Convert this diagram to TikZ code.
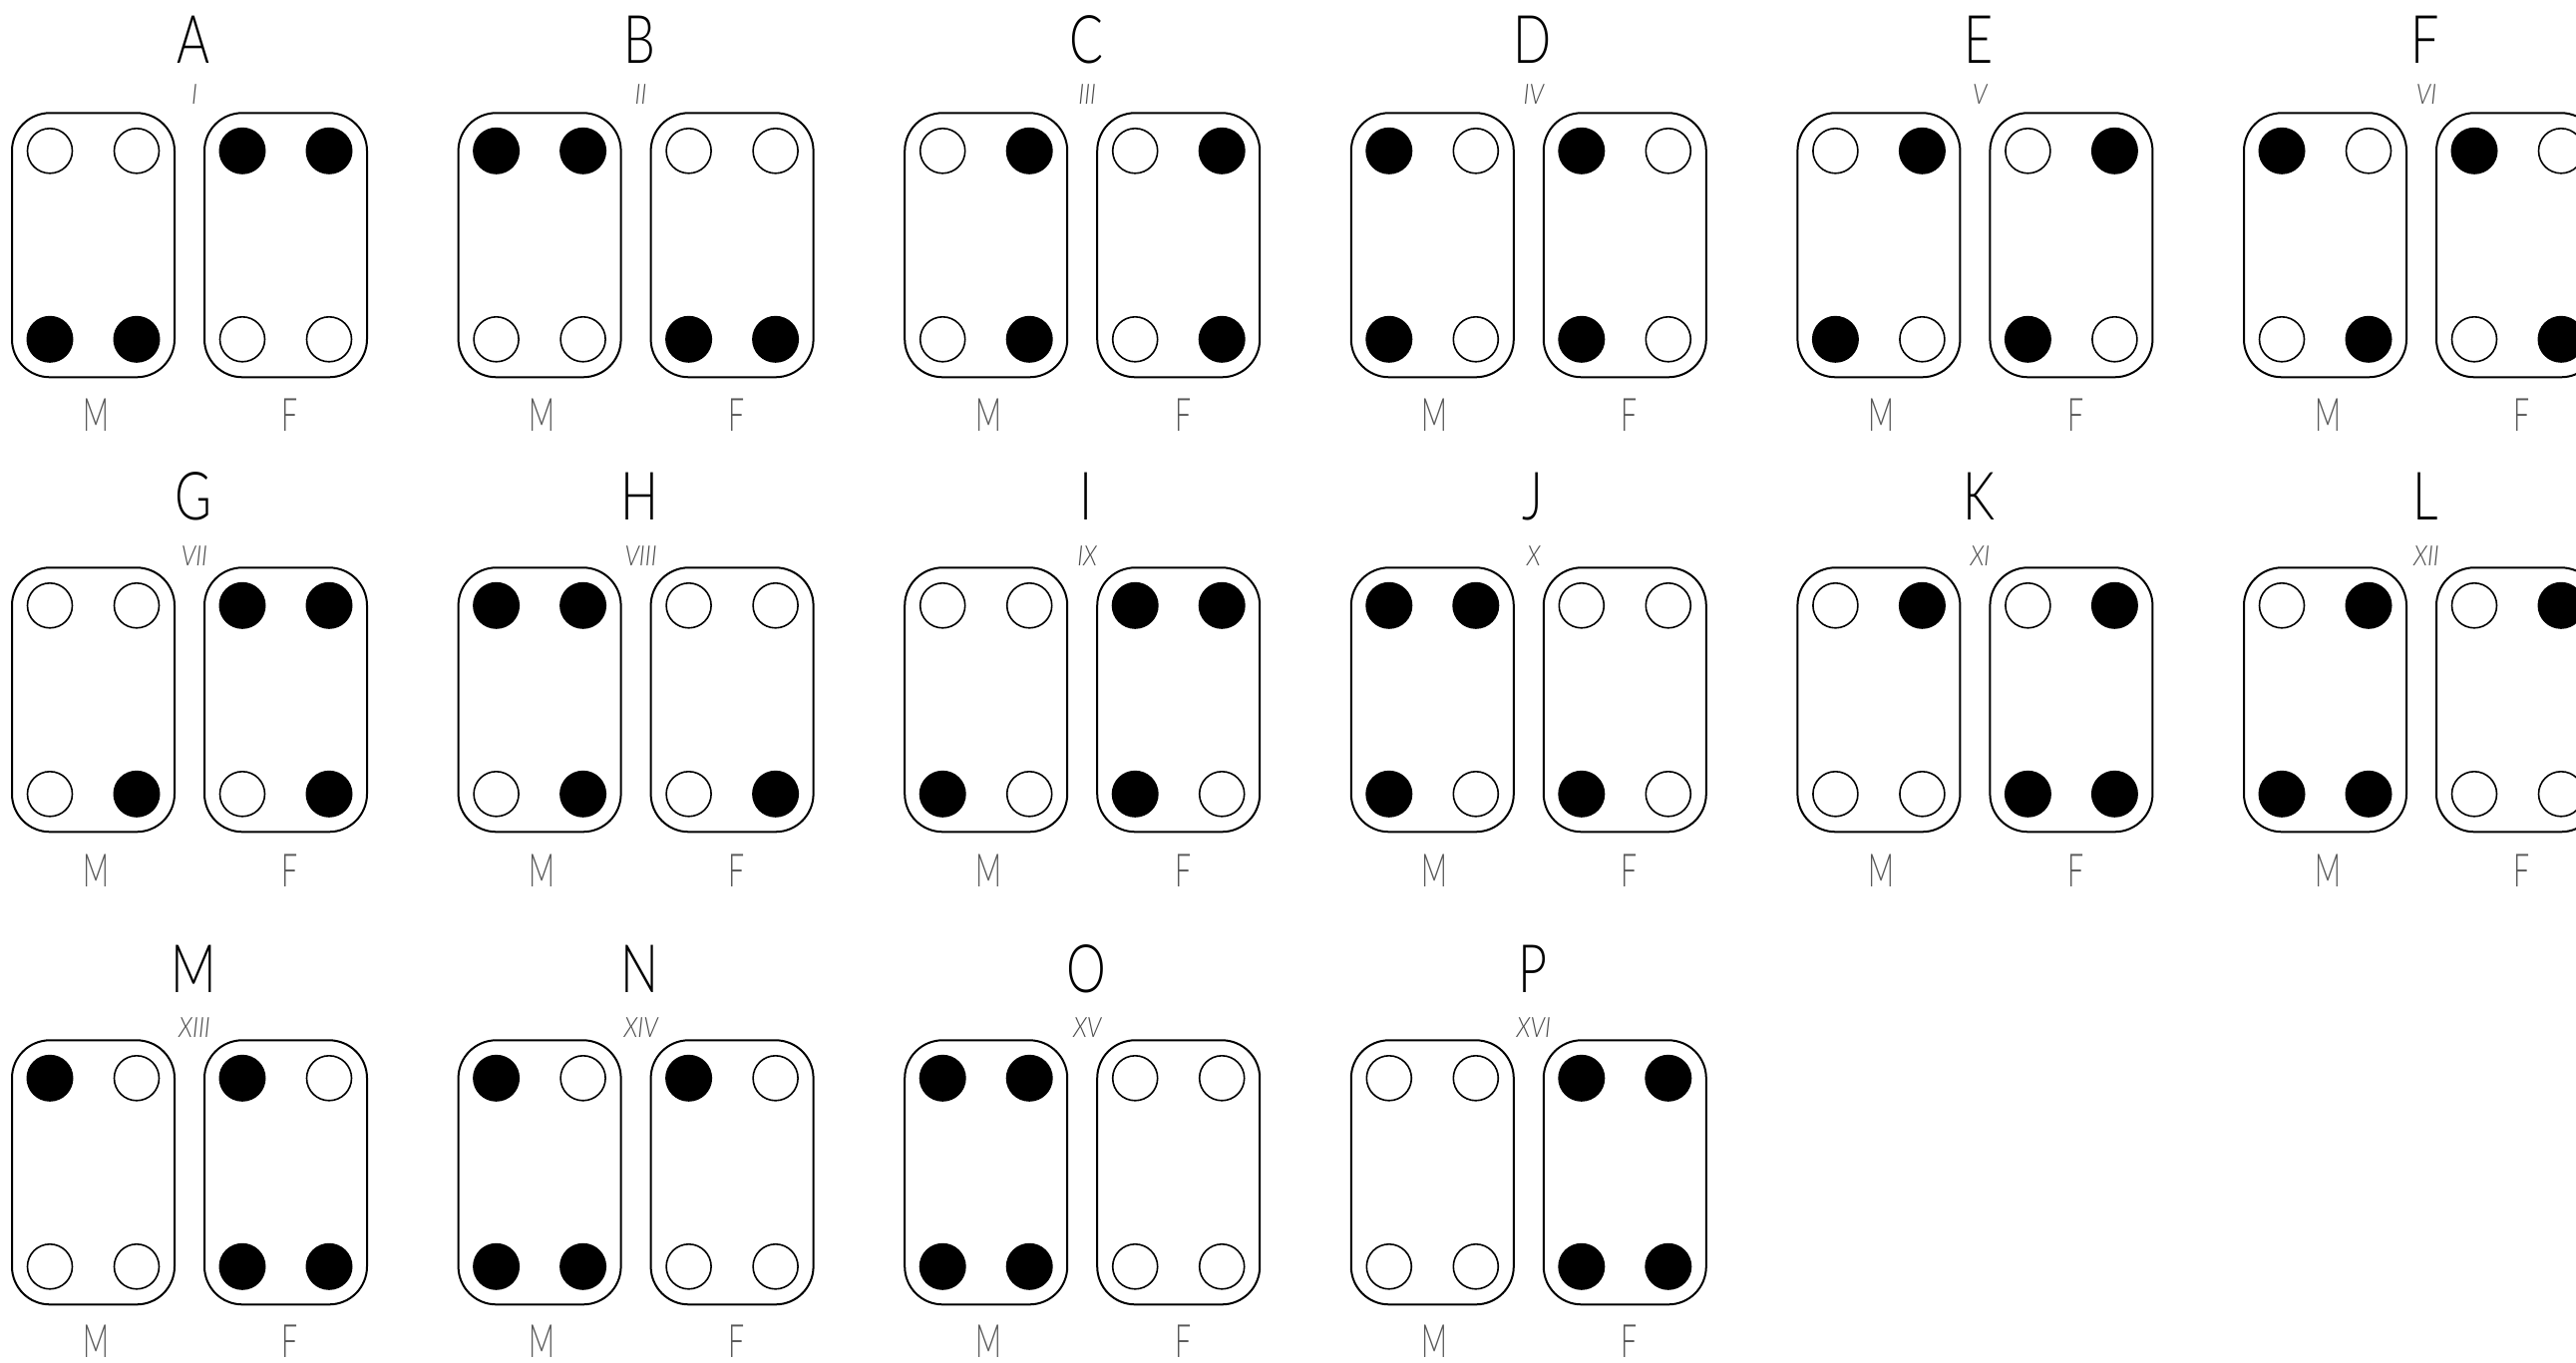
\documentclass[tikz,border=0pt]{standalone}
\usepackage{fontspec}
\IfFontExistsTF{Lato Light}{\newfontfamily\letterfont{Lato Light}}{\newfontfamily\letterfont{DejaVu Sans}}
\IfFontExistsTF{Lato Light}{\newfontfamily\labelfont{Lato Light}}{\newfontfamily\labelfont{DejaVu Sans}}
\IfFontExistsTF{Lato Light Italic}{\newfontfamily\numfont{Lato Light Italic}}{\newfontfamily\numfont{DejaVu Sans}[FakeSlant=0.2]}
\definecolor{labgray}{gray}{0.35}
\definecolor{numgray}{gray}{0.3}
\newcommand{\letoff}{-49}
\newcommand{\numoff}{-5}
\newcommand{\laboff}{320}
\newcommand{\grp}[7]{%
\begin{scope}[shift={(#2,#3)}]
\node[plate] (#1m) at (81.5,132.5) {};
\node[plate] (#1f) at (274.5,132.5) {};
\node[bigletter] (#1let) at (182,\letoff) {#4};
\node[numeral] (#1num) at (183,\numoff) {#5};
\node[sublabel] (#1ml) at (84,\laboff) {M};
\node[sublabel] (#1fl) at (279,\laboff) {F};
\foreach \s [count=\k from 0] in {#6} {
  \pgfmathsetmacro\dx{38+87*mod(\k,2)}
  \pgfmathsetmacro\dy{38+189*floor(\k/2)}
  \node[hole\s] (#1m\k) at (\dx,\dy) {};
}
\foreach \s [count=\k from 0] in {#7} {
  \pgfmathsetmacro\dx{231+87*mod(\k,2)}
  \pgfmathsetmacro\dy{38+189*floor(\k/2)}
  \node[hole\s] (#1f\k) at (\dx,\dy) {};
}
\end{scope}}
\begin{document}
\begin{tikzpicture}[x=1pt,y=-1pt,
  plate/.style={draw,line width=2pt,rounded corners=38pt,minimum width=163pt,minimum height=265pt,inner sep=0pt},
  holeoff/.style={circle,draw,line width=1.6pt,minimum size=45pt,inner sep=0pt},
  holeon/.style={circle,fill=black,minimum size=47pt,inner sep=0pt},
  bigletter/.style={font=\letterfont\fontsize{67}{67}\selectfont,inner sep=0pt,anchor=base,xscale=0.75},
  numeral/.style={font=\numfont\fontsize{28}{28}\selectfont,text=numgray,inner sep=0pt,anchor=base,xscale=0.85},
  sublabel/.style={font=\labelfont\fontsize{46}{46}\selectfont,text=labgray,inner sep=0pt,outer sep=0pt,text depth=0pt,anchor=base,xscale=0.62}]
\fill[white] (0,0) rectangle (2583,1367);
\useasboundingbox (0,0) rectangle (2583,1367);
\clip (0,0) rectangle (2583,1367);
% row 1
\renewcommand{\letoff}{-50}\renewcommand{\numoff}{-9}\renewcommand{\laboff}{319}
\grp{A}{12}{113.3}{A}{I}{off,off,on,on}{on,on,off,off}
\grp{B}{459.6}{113.3}{B}{II}{on,on,off,off}{off,off,on,on}
\grp{C}{907.2}{113.3}{C}{III}{off,on,off,on}{off,on,off,on}
\grp{D}{1354.8}{113.3}{D}{IV}{on,off,on,off}{on,off,on,off}
\grp{E}{1802.4}{113.3}{E}{V}{off,on,on,off}{off,on,on,off}
\grp{F}{2250}{113.3}{F}{VI}{on,off,off,on}{on,off,off,on}
% row 2
\renewcommand{\letoff}{-48}\renewcommand{\numoff}{-2}\renewcommand{\laboff}{320}
\grp{G}{12}{569.3}{G}{VII}{off,off,off,on}{on,on,off,on}
\grp{H}{459.6}{569.3}{H}{VIII}{on,on,off,on}{off,off,off,on}
\grp{I}{907.2}{569.3}{I}{IX}{off,off,on,off}{on,on,on,off}
\grp{J}{1354.8}{569.3}{J}{X}{on,on,on,off}{off,off,on,off}
\grp{K}{1802.4}{569.3}{K}{XI}{off,on,off,off}{off,on,on,on}
\grp{L}{2250}{569.3}{L}{XII}{off,on,on,on}{off,on,off,off}
% row 3
\renewcommand{\letoff}{-48}\renewcommand{\numoff}{-3}\renewcommand{\laboff}{318}
\grp{M}{12}{1043.3}{M}{XIII}{on,off,off,off}{on,off,on,on}
\grp{N}{459.6}{1043.3}{N}{XIV}{on,off,on,on}{on,off,off,off}
\grp{O}{907.2}{1043.3}{O}{XV}{on,on,on,on}{off,off,off,off}
\grp{P}{1354.8}{1043.3}{P}{XVI}{off,off,off,off}{on,on,on,on}
\end{tikzpicture}
\end{document}
